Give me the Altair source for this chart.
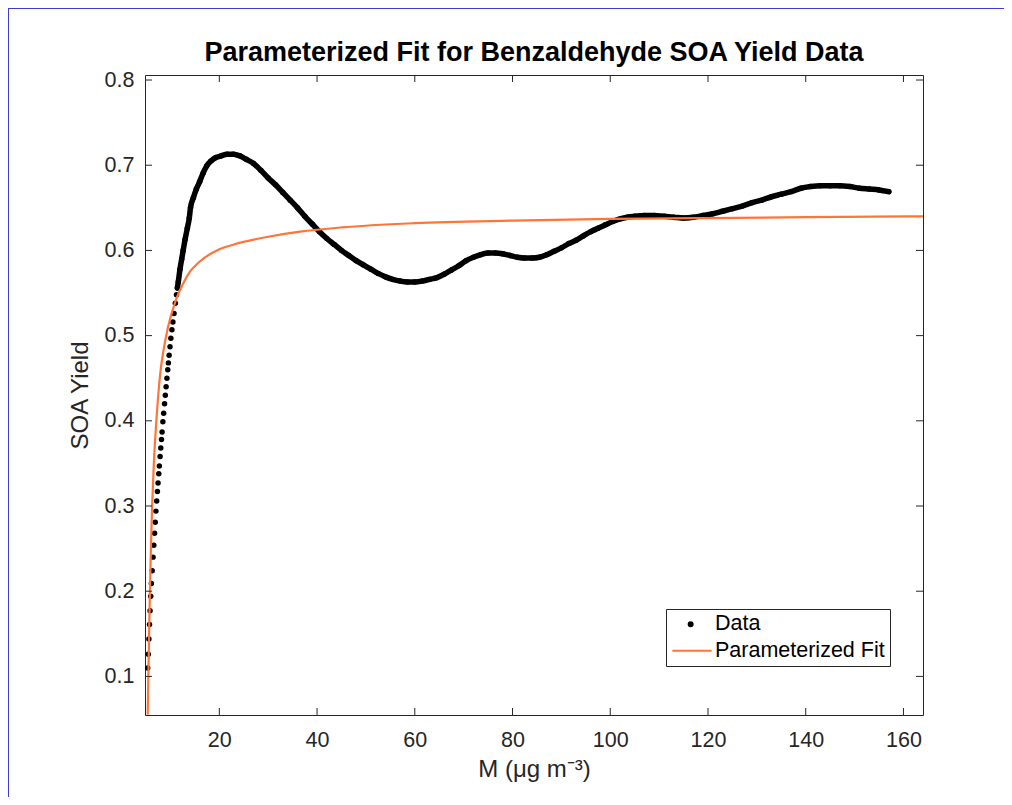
import altair as alt
import pandas as pd

# ---------------- data ----------------
data_m = [5.34, 5.46, 5.59, 5.71, 5.83, 5.96, 6.09, 6.26, 6.44, 6.59, 6.75, 6.89, 7.03, 7.18,
          7.33, 7.46, 7.61, 7.73, 7.88, 8.02, 8.16, 8.29, 8.45, 8.61, 8.79, 8.95, 9.11, 9.28,
          9.45, 9.58, 9.73, 9.91, 10.08, 10.30, 10.50, 10.73, 11.00, 11.23, 11.42, 11.60,
          11.95, 12.3, 12.6, 13.0, 13.45, 13.85, 14.1, 14.7, 15.3, 16.0, 16.7, 17.4, 18.3,
          19.3, 20.4, 21.6, 22.9, 24.2, 25.5,
          27.0, 28.5, 30.0, 31.5, 33.0, 34.5, 36.0, 37.5, 39.0, 40.5, 42.0, 43.5, 45.0, 46.5,
          48.0, 49.5, 51.0, 52.5, 54.0, 55.5, 57.0, 58.5, 60.0, 61.5, 63.0, 64.5, 66.0, 67.5,
          69.0, 70.5, 72.0, 73.5, 75.0, 76.5, 78.0, 79.5, 81.0, 82.5, 84.0, 85.5, 87.0, 88.5,
          90.0, 91.5, 93.0, 94.5, 96.0, 97.5, 99.0, 100.5, 102.0, 103.5, 105.0, 107.0, 109.0,
          111.0, 113.0, 115.0, 117.0, 119.0, 121.0, 123.0, 125.0, 127.0, 129.0, 131.0, 133.0,
          135.0, 137.0, 139.0, 141.0, 143.0, 145.0, 147.0, 149.0, 151.0, 153.0, 155.0, 157.0]
data_y = [0.110, 0.126, 0.144, 0.161, 0.177, 0.194, 0.209, 0.224, 0.240, 0.254, 0.268, 0.281,
          0.294, 0.306, 0.317, 0.327, 0.338, 0.347, 0.358, 0.368, 0.378, 0.387, 0.399, 0.409,
          0.420, 0.430, 0.440, 0.450, 0.460, 0.468, 0.477, 0.487, 0.497, 0.507, 0.516, 0.526,
          0.538, 0.548, 0.556, 0.563,
          0.578, 0.590, 0.600, 0.613, 0.626, 0.638, 0.650, 0.662, 0.672, 0.681, 0.691, 0.699,
          0.705, 0.709, 0.711, 0.713, 0.713, 0.711, 0.707,
          0.702, 0.694, 0.685, 0.677, 0.668, 0.659, 0.650, 0.640, 0.631, 0.622, 0.614, 0.607,
          0.600, 0.594, 0.588, 0.583, 0.578, 0.573, 0.569, 0.566, 0.564, 0.563, 0.563, 0.564,
          0.566, 0.568, 0.572, 0.577, 0.582, 0.588, 0.592, 0.595, 0.597, 0.597, 0.596, 0.594,
          0.592, 0.591, 0.591, 0.592, 0.595, 0.599, 0.603, 0.608, 0.612, 0.617, 0.622, 0.626,
          0.630, 0.634, 0.637, 0.639, 0.640, 0.641, 0.641, 0.640, 0.639, 0.638, 0.639, 0.641,
          0.643, 0.646, 0.649, 0.652, 0.656, 0.659, 0.663, 0.666, 0.669, 0.673, 0.675, 0.676,
          0.676, 0.676, 0.675, 0.673, 0.672, 0.671, 0.669]

fit_m = [5.34, 5.45, 5.6, 5.8, 6.0, 6.25, 6.6, 7.0, 7.5, 8.0, 8.5, 9.5, 11.0, 12.5, 14.0,
         16.0, 19.5, 23.0, 30.0, 36.5, 45.0, 60.0, 80.0, 100.0, 120.0, 140.0, 164.0]
fit_y = [0.055, 0.090, 0.140, 0.200, 0.250, 0.300, 0.350, 0.390, 0.430, 0.460, 0.480, 0.510,
         0.540, 0.560, 0.575, 0.587, 0.600, 0.607, 0.616, 0.622, 0.627, 0.632, 0.635, 0.637,
         0.638, 0.639, 0.640]

x_ticks = [20, 40, 60, 80, 100, 120, 140, 160]
y_ticks = [0.1, 0.2, 0.3, 0.4, 0.5, 0.6, 0.7, 0.8]
series = ["Data", "Parameterized Fit"]

# ---------------- styling ----------------
W, H = 778, 640
FONT = "Liberation Sans"
AX = "#262626"
ORANGE = "#FF7538"
BLUE = "#3c3cd2"
TICK = 7

xs = alt.Scale(domain=[4.79, 164.0], nice=False, zero=False)
ys = alt.Scale(domain=[0.0547, 0.8059], nice=False, zero=False)

xaxis = alt.Axis(values=x_ticks, format="d", title="M (μg m⁻³)", labelPadding=14,
                 titlePadding=7, ticks=False, domain=False, grid=False,
                 labelFont=FONT, labelFontSize=21.5, labelColor=AX,
                 titleFont=FONT, titleFontSize=24, titleFontWeight="normal", titleColor=AX)
yaxis = alt.Axis(values=y_ticks, format=".1f", title="SOA Yield", labelPadding=11,
                 titlePadding=12, ticks=False, domain=False, grid=False,
                 labelFont=FONT, labelFontSize=21.5, labelColor=AX,
                 titleFont=FONT, titleFontSize=24, titleFontWeight="normal", titleColor=AX)
xenc = alt.X("M:Q", scale=xs, axis=xaxis)
yenc = alt.Y("Y:Q", scale=ys, axis=yaxis)

df_data = pd.DataFrame({"M": data_m, "Y": data_y})
df_fit = pd.DataFrame({"M": fit_m, "Y": fit_y})
df_xt = pd.DataFrame({"M": x_ticks})
df_yt = pd.DataFrame({"Y": y_ticks})
df_leg = pd.DataFrame({"series": series})

band = (alt.Chart(df_data)
        .transform_filter("datum.M >= 11.4")
        .mark_line(color="black", strokeWidth=5.5, strokeCap="round", strokeJoin="round",
                   interpolate="monotone")
        .encode(x=xenc, y=yenc))

dots = (alt.Chart(df_data)
        .mark_circle(color="black", size=30, opacity=1)
        .encode(x=xenc, y=yenc))

fit = (alt.Chart(df_fit)
       .mark_line(color=ORANGE, strokeWidth=2.2, clip=True, interpolate="monotone")
       .encode(x=xenc, y=yenc))

tb = alt.Chart(df_xt).mark_rule(color=AX, strokeWidth=1).encode(
    x=xenc, y=alt.value(H), y2=alt.value(H - TICK))
tt = alt.Chart(df_xt).mark_rule(color=AX, strokeWidth=1).encode(
    x=xenc, y=alt.value(0), y2=alt.value(TICK))
tl = alt.Chart(df_yt).mark_rule(color=AX, strokeWidth=1).encode(
    y=yenc, x=alt.value(0), x2=alt.value(TICK))
tr = alt.Chart(df_yt).mark_rule(color=AX, strokeWidth=1).encode(
    y=yenc, x=alt.value(W), x2=alt.value(W - TICK))

# legend (symbols drawn only inside the legend box)
DOT_PATH = "M2.26,0A0.38,0.38 0 1,1 1.50,0A0.38,0.38 0 1,1 2.26,0Z"
LINE_PATH = "M-1.78,0L6.08,0"
leg = alt.Legend(title=None, orient="none", legendX=521, legendY=534,
                 labelFont=FONT, labelFontSize=21.5, labelColor="black", labelLimit=400,
                 labelOffset=23, padding=4.5, rowPadding=3.5, symbolSize=100,
                 symbolStrokeWidth=2.2, strokeColor=AX, fillColor="white")
legend_layer = (alt.Chart(df_leg)
                .mark_point(filled=True, clip=True, size=100, strokeWidth=2.2, opacity=1)
                .encode(x=alt.value(-400), y=alt.value(-400),
                        shape=alt.Shape("series:N", scale=alt.Scale(domain=series, range=[DOT_PATH, LINE_PATH]), legend=leg),
                        fill=alt.Fill("series:N", scale=alt.Scale(domain=series, range=["black", ORANGE]), legend=leg),
                        stroke=alt.Stroke("series:N", scale=alt.Scale(domain=series, range=["black", ORANGE]), legend=leg)))

frame_top = alt.Chart(df_leg).mark_rule(color=BLUE, strokeWidth=1).encode(
    x=alt.value(-137), x2=alt.value(1012 - 145), y=alt.value(-66.5))
frame_left = alt.Chart(df_leg).mark_rule(color=BLUE, strokeWidth=1).encode(
    x=alt.value(-136.5), y=alt.value(-67), y2=alt.value(805 - 75))

chart = (alt.layer(band, dots, fit, tb, tt, tl, tr, legend_layer, frame_top, frame_left)
         .properties(width=W, height=H,
                     title=alt.TitleParams("Parameterized Fit for Benzaldehyde SOA Yield Data",
                                           font=FONT, fontSize=27, fontWeight="bold",
                                           color="black", anchor="middle", offset=12,
                                           frame="group", dy=71),
                     padding={"left": 137, "top": 67, "right": 81, "bottom": 82},
                     autosize=alt.AutoSizeParams(type="none"))
         .configure_view(stroke=AX, strokeWidth=1))

chart.save("out.html", embed_options={"renderer": "svg", "actions": False})
